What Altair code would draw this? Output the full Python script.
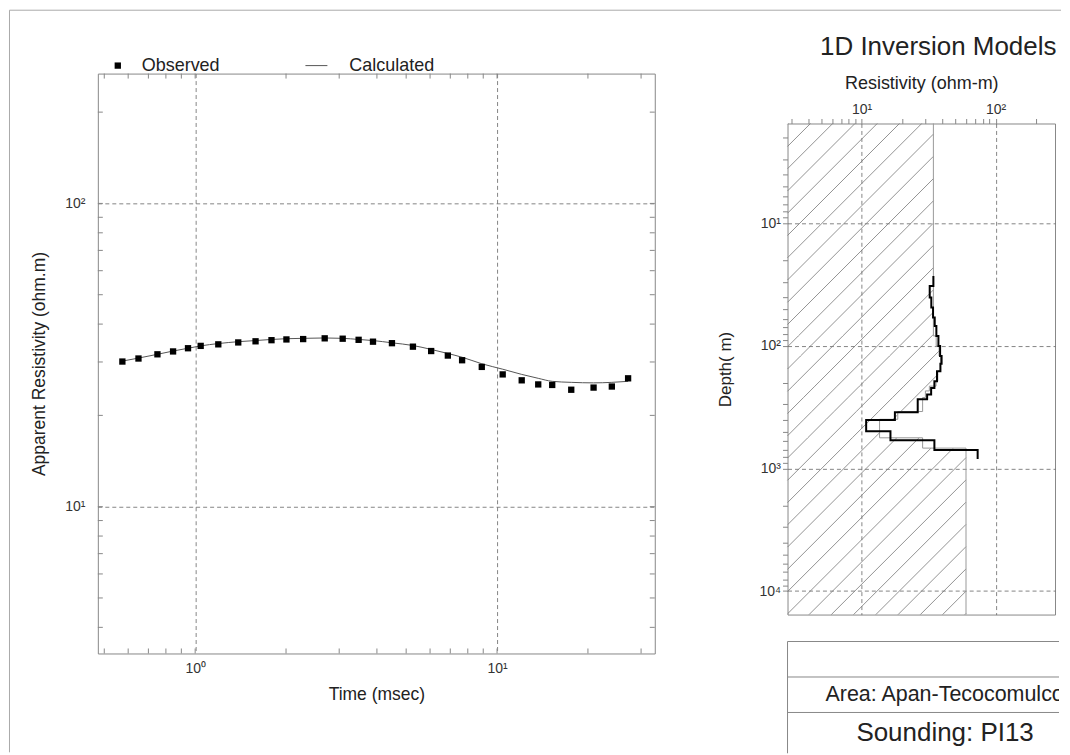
import math
import altair as alt
import pandas as pd

FONT = "Liberation Sans"

# ---------------- left panel data (TEM sounding curve) ----------------
time_ms = [0.574, 0.649, 0.750, 0.845, 0.947, 1.043, 1.193, 1.389, 1.585, 1.790,
           2.006, 2.279, 2.686, 3.081, 3.479, 3.882, 4.486, 5.264, 6.050, 6.871,
           7.660, 8.901, 10.44, 12.07, 13.69, 15.23, 17.61, 20.88, 24.00, 27.17]
rho_observed = [30.1, 30.8, 31.8, 32.5, 33.3, 33.9, 34.3, 34.8, 35.1, 35.4,
                35.6, 35.7, 35.9, 35.8, 35.5, 35.0, 34.6, 33.7, 32.6, 31.5,
                30.4, 28.9, 27.3, 26.1, 25.3, 25.2, 24.3, 24.7, 24.9, 26.5]
rho_calculated = [30.2, 30.9, 31.8, 32.6, 33.3, 33.9, 34.5, 35.0, 35.3, 35.6,
                  35.8, 35.9, 36.0, 35.9, 35.6, 35.3, 34.7, 34.0, 33.0, 32.0,
                  31.1, 29.6, 28.4, 27.3, 26.5, 25.9, 25.7, 25.6, 25.7, 25.9]
time_ticks = [0.5, 0.6, 0.7, 0.8, 0.9, 1, 2, 3, 4, 5, 6, 7, 8, 9, 10, 20, 30]
app_rho_ticks = [4, 5, 6, 7, 8, 9, 10, 20, 30, 40, 50, 60, 70, 80, 90, 100, 200]
legend_labels = ["Observed", "Calculated"]

# ---------------- right panel data (1D inversion models) ----------------
model_depths = [26.9, 32.4, 40.3, 48.6, 58.7, 68.7, 82.9, 100.1, 120.8, 140, 160.7,
                194, 220, 249, 273, 347, 403, 496, 587, 708, 838]
model_rho = [34.3, 32.2, 33.1, 34.1, 35.1, 36.1, 37.4, 38.5, 39.5, 38.7,
             36.5, 34.9, 33.0, 30.8, 26.2, 17.7, 10.8, 16.4, 34.9, 73.4]
smooth_depths = [1.534, 82.9, 100, 121, 160, 194, 213, 233, 264, 343, 397, 562, 682, 15540]
smooth_rho = [34.3, 36.0, 37.8, 38.8, 37.0, 35.9, 32.0, 29.9, 28.5, 18.6, 13.6, 28.5, 60.1]
res_ticks = [3, 4, 5, 6, 7, 8, 9, 10, 20, 30, 40, 50, 60, 70, 80, 90, 100, 200]
depth_ticks = [2, 3, 4, 5, 6, 7, 8, 9, 10, 20, 30, 40, 50, 60, 70, 80, 90, 100,
               200, 300, 400, 500, 600, 700, 800, 900, 1000, 2000, 3000, 4000,
               5000, 6000, 7000, 8000, 9000, 10000]
table_labels = ["", "Area: Apan-Tecocomulco", "Sounding: PI13"]

# ---------------- sizes / scales ----------------
LW, LH = 558, 581
RW, RH = 268, 492
TW, TH = 272, 112
XL = [0.476, 33.3]
YL = [3.28, 268]
XR = [2.795, 277.5]
YR = [1.534, 15540]

sup_expr = ("datum.value == 1 ? '10\u2070' : datum.value == 10 ? '10\u00b9' : "
            "datum.value == 100 ? '10\u00b2' : datum.value == 1000 ? '10\u00b3' : "
            "datum.value == 10000 ? '10\u2074' : ''")
major_test = ("datum.value == 1 || datum.value == 10 || datum.value == 100 || "
              "datum.value == 1000 || datum.value == 10000")

GRID = "#666"
FRAME = "#888"
TXT = "#222"
LAB = 14

one = pd.DataFrame({"a": [0]})

# ================= left panel =================
xs_l = alt.Scale(type="log", domain=XL, nice=False)
ys_l = alt.Scale(type="log", domain=YL, nice=False)

ax_x_l = alt.Axis(values=[1, 10], labelExpr=sup_expr, grid=True, gridDash=[4, 3],
                  gridColor=GRID, gridWidth=0.8, ticks=False, domain=False,
                  labelFontSize=LAB, labelColor="#333", labelPadding=8,
                  title="Time (msec)", titleFontSize=17.5, titleFontWeight="normal",
                  titleColor=TXT, titlePadding=10)
ax_y_l = alt.Axis(values=[10, 100], labelExpr=sup_expr, grid=True, gridDash=[4, 3],
                  gridColor=GRID, gridWidth=0.8, ticks=False, domain=False,
                  labelFontSize=LAB, labelColor="#333", labelPadding=13,
                  title="Apparent Resistivity (ohm.m)", titleFontSize=17.5,
                  titleFontWeight="normal", titleColor=TXT, titlePadding=16)

curve_df = pd.DataFrame({"t": time_ms, "obs": rho_observed, "calc": rho_calculated})

calc_line = alt.Chart(curve_df).mark_line(color="#555", strokeWidth=1, interpolate="monotone").encode(
    x=alt.X("t:Q", scale=xs_l, axis=ax_x_l),
    y=alt.Y("calc:Q", scale=ys_l, axis=ax_y_l),
)
obs_pts = alt.Chart(curve_df).mark_square(color="black", size=40, opacity=1).encode(
    x=alt.X("t:Q", scale=xs_l, axis=ax_x_l),
    y=alt.Y("obs:Q", scale=ys_l, axis=ax_y_l),
)

xt_df = pd.DataFrame({"t": time_ticks})
yt_df = pd.DataFrame({"calc": app_rho_ticks})
tick_b = alt.Chart(xt_df).mark_rule(color=FRAME).encode(
    x=alt.X("t:Q", scale=xs_l, axis=ax_x_l), y=alt.value(LH), y2=alt.value(LH - 5))
tick_t = alt.Chart(xt_df).mark_rule(color=FRAME).encode(
    x=alt.X("t:Q", scale=xs_l, axis=ax_x_l), y=alt.value(0), y2=alt.value(5))
tick_l = alt.Chart(yt_df).mark_rule(color=FRAME).encode(
    y=alt.Y("calc:Q", scale=ys_l, axis=ax_y_l), x=alt.value(0), x2=alt.value(5))
tick_r = alt.Chart(yt_df).mark_rule(color=FRAME).encode(
    y=alt.Y("calc:Q", scale=ys_l, axis=ax_y_l), x=alt.value(LW - 5), x2=alt.value(LW))

leg_sq = alt.Chart(one).mark_square(color="black", size=40, opacity=1).encode(
    x=alt.value(20), y=alt.value(-8))
leg_ln = alt.Chart(one).mark_rule(color="#555", strokeWidth=1).encode(
    x=alt.value(208), x2=alt.value(230), y=alt.value(-8))
leg_t1 = alt.Chart(one).mark_text(text=legend_labels[0], align="left", baseline="middle",
                                  fontSize=18, color=TXT).encode(x=alt.value(44), y=alt.value(-8))
leg_t2 = alt.Chart(one).mark_text(text=legend_labels[1], align="left", baseline="middle",
                                  fontSize=18, color=TXT).encode(x=alt.value(252), y=alt.value(-8))

# page frame of the original document
page_v = alt.Chart(one).mark_rule(color="#aaa", strokeWidth=1).encode(
    x=alt.value(-88.5), y=alt.value(-63.5), y2=alt.value(680))
page_h = alt.Chart(one).mark_rule(color="#aaa", strokeWidth=1).encode(
    x=alt.value(-88.5), x2=alt.value(965), y=alt.value(-63.5))

left = alt.layer(calc_line, obs_pts, tick_b, tick_t, tick_l, tick_r,
                 leg_sq, leg_ln, leg_t1, leg_t2, page_v, page_h).properties(width=LW, height=LH)

# ================= right panel =================
xs_r = alt.Scale(type="log", domain=XR, nice=False)
ys_r = alt.Scale(type="log", domain=YR, nice=False, reverse=True)

grid_cond = {"condition": {"test": major_test, "value": 1}, "value": 0}
ax_x_r = alt.Axis(orient="top", values=res_ticks, labelExpr=sup_expr, labelOverlap=False,
                  grid=True, gridDash=[4, 3], gridColor=GRID, gridWidth=0.8, gridOpacity=grid_cond,
                  tickSize=5, tickColor=FRAME, domain=False, labelFontSize=LAB, labelColor="#333",
                  labelPadding=2, title="Resistivity (ohm-m)", titleFontSize=18,
                  titleFontWeight="normal", titleColor=TXT, titlePadding=10)
ax_y_r = alt.Axis(values=depth_ticks, labelExpr=sup_expr, labelOverlap=False,
                  grid=True, gridDash=[4, 3], gridColor=GRID, gridWidth=0.8, gridOpacity=grid_cond,
                  tickSize=5, tickColor=FRAME, domain=False, labelFontSize=LAB, labelColor="#333",
                  labelPadding=2, title="Depth( m)", titleFontSize=17,
                  titleFontWeight="normal", titleColor=TXT, titlePadding=25)

lx0, lx1 = math.log10(XR[0]), math.log10(XR[1])
ly0, ly1 = math.log10(YR[0]), math.log10(YR[1])


def to_px(r):
    return (math.log10(r) - lx0) / (lx1 - lx0) * RW


def to_py(d):
    return (math.log10(d) - ly0) / (ly1 - ly0) * RH


def from_px(p):
    return 10 ** (lx0 + p / RW * (lx1 - lx0))


def from_py(p):
    return 10 ** (ly0 + p / RH * (ly1 - ly0))


# hatch fill of the area left of the smooth model (45 degree lines)
layers_px = [(to_py(smooth_depths[i]), to_py(smooth_depths[i + 1]), to_px(smooth_rho[i]))
             for i in range(len(smooth_rho))]
hatch = []
c = 0.7
while c < RW + RH + 25:
    for (y0, y1, xm) in layers_px:
        ya = max(y0, c - xm, 0.0)
        yb = min(y1, c)
        if yb - ya > 0.05:
            hatch.append({"rho": from_px(c - ya), "depth": from_py(ya),
                          "rho2": from_px(c - yb), "depth2": from_py(yb)})
    c += 22.3
hatch_df = pd.DataFrame(hatch)


def steps(depths, rhos):
    rows = []
    for i, r in enumerate(rhos):
        rows.append({"rho": r, "depth": depths[i], "i": 2 * i})
        rows.append({"rho": r, "depth": depths[i + 1], "i": 2 * i + 1})
    return pd.DataFrame(rows)


hatch_layer = alt.Chart(hatch_df).mark_rule(color="#777", strokeWidth=0.8).encode(
    x=alt.X("rho:Q", scale=xs_r, axis=ax_x_r), x2="rho2:Q",
    y=alt.Y("depth:Q", scale=ys_r, axis=ax_y_r), y2="depth2:Q")
smooth_layer = alt.Chart(steps(smooth_depths, smooth_rho)).mark_line(
    color="#999", strokeWidth=1).encode(
    x=alt.X("rho:Q", scale=xs_r, axis=ax_x_r), y=alt.Y("depth:Q", scale=ys_r, axis=ax_y_r),
    order="i:Q")
model_layer = alt.Chart(steps(model_depths, model_rho)).mark_line(
    color="black", strokeWidth=2).encode(
    x=alt.X("rho:Q", scale=xs_r, axis=ax_x_r), y=alt.Y("depth:Q", scale=ys_r, axis=ax_y_r),
    order="i:Q")

right_plot = alt.layer(hatch_layer, smooth_layer, model_layer).properties(
    width=RW, height=RH,
    title=alt.TitleParams("1D Inversion Models", fontSize=26, fontWeight="normal",
                          anchor="middle", dx=17, offset=15, color=TXT, font=FONT))

spacer = alt.Chart(one).mark_point(opacity=0).encode(
    x=alt.value(0), y=alt.value(0)).properties(
    width=RW, height=23, view=alt.ViewBackground(stroke="transparent"))

# ================= info table =================
ts = alt.Scale(domain=[0, 3.15], reverse=True)
tab_df = pd.DataFrame({"row": [0, 1, 2], "label": table_labels, "yc": [0.5, 1.5, 2.59]})
tab_lines = alt.Chart(tab_df).mark_rule(color=FRAME, strokeWidth=1).encode(
    y=alt.Y("row:Q", scale=ts, axis=None), x=alt.value(0), x2=alt.value(TW))
tab_left = alt.Chart(one).mark_rule(color=FRAME, strokeWidth=1).encode(
    x=alt.value(0), y=alt.value(0), y2=alt.value(TH))
tab_area = alt.Chart(tab_df[tab_df.row == 1]).mark_text(
    align="left", baseline="middle", fontSize=21.5, color=TXT, clip=True).encode(
    y=alt.Y("yc:Q", scale=ts, axis=None), x=alt.value(38), text="label:N")
tab_snd = alt.Chart(tab_df[tab_df.row == 2]).mark_text(
    align="left", baseline="middle", fontSize=26, color=TXT, clip=True).encode(
    y=alt.Y("yc:Q", scale=ts, axis=None), x=alt.value(69), text="label:N")
table = alt.layer(tab_lines, tab_left, tab_area, tab_snd).properties(
    width=TW, height=TH, view=alt.ViewBackground(stroke="transparent"))

right_col = alt.vconcat(spacer, right_plot, table, spacing=27, bounds="flush")

chart = alt.hconcat(left, right_col, spacing=133, bounds="flush").properties(
    padding={"left": 0, "top": 0, "right": 0, "bottom": 0}
).configure(font=FONT).configure_view(stroke=FRAME, strokeWidth=1)

chart.save("out.html", embed_options={"renderer": "svg", "actions": False})
